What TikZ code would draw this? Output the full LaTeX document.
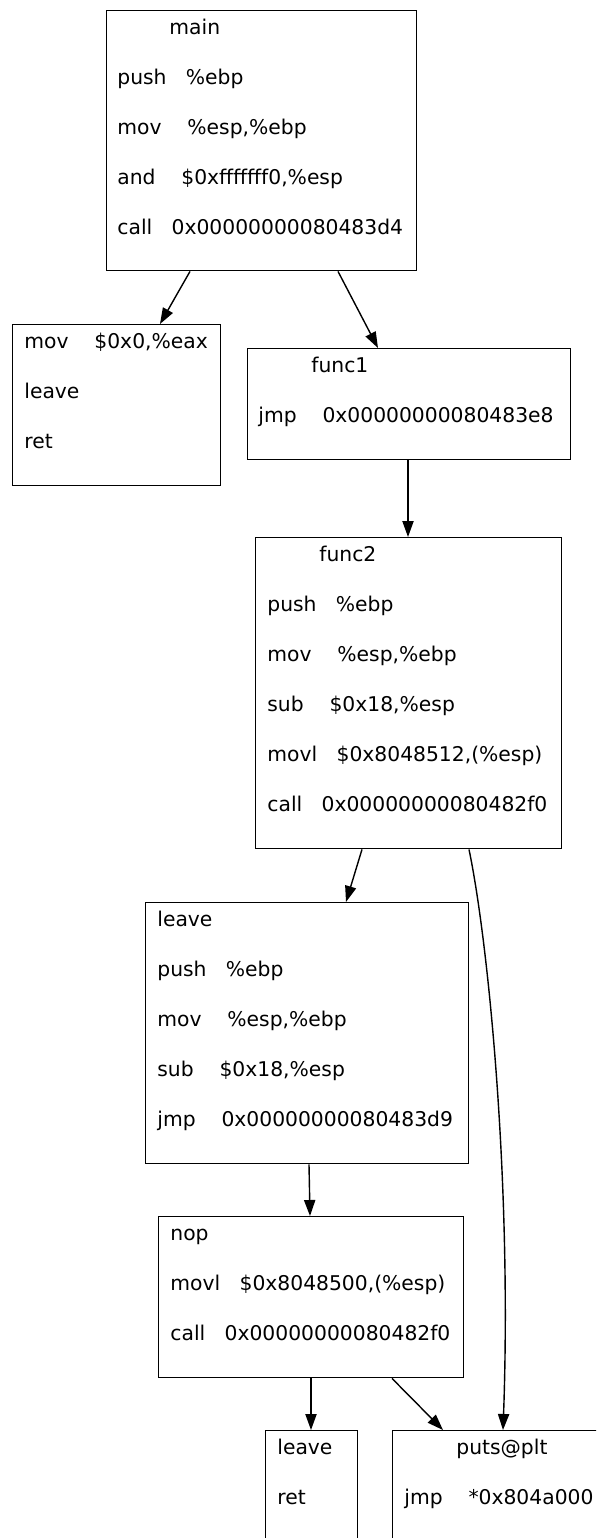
\documentclass[tikz,border=0pt]{standalone}
\usepackage{fontspec}
\setmainfont{DejaVu Sans}
\usetikzlibrary{arrows.meta,calc}

\begin{document}
\begin{tikzpicture}[x=0.5pt,y=-0.5pt,
  blk/.style={draw=black,line width=0.7pt,anchor=north west,inner sep=0pt},
  ln/.style={anchor=base west,inner sep=0pt,font=\fontsize{10.15pt}{12pt}\selectfont},
  arr/.style={line width=0.7pt,-{Triangle[length=8pt,width=5.6pt]}}]
\useasboundingbox (0,0) rectangle (596,1538);
\clip (0,0) rectangle (596,1538);

% basic blocks
\node[blk,minimum width=155pt,minimum height=130pt]   (main)  at (106,10)   {};
\node[blk,minimum width=104pt,minimum height=80.5pt]  (exit)  at (12,324)   {};
\node[blk,minimum width=161.5pt,minimum height=55.5pt](func1) at (247,348)  {};
\node[blk,minimum width=153pt,minimum height=155.5pt] (func2) at (255,537)  {};
\node[blk,minimum width=161.5pt,minimum height=130.5pt](tail) at (145,902)  {};
\node[blk,minimum width=152.5pt,minimum height=80.5pt](nopb)  at (158,1216) {};
\node[blk,minimum width=46pt,minimum height=55.5pt]   (ret)   at (265,1430) {};
\node[blk,minimum width=124pt,minimum height=55.5pt]  (puts)  at (392,1430) {};

% main
\node[ln] (m0) at (169,34)  {main};
\node[ln] (m1) at (117,84)  {push\ \ \ \%ebp};
\node[ln] (m2) at (117,134) {mov\ \ \ \ \%esp,\%ebp};
\node[ln] (m3) at (117,184) {and\ \ \ \ \$0xfffffff0,\%esp};
\node[ln] (m4) at (117,234) {call\ \ \ 0x00000000080483d4};

% return path of main
\node[ln] (e1) at (24,348) {mov\ \ \ \ \$0x0,\%eax};
\node[ln] (e2) at (24,398) {leave};
\node[ln] (e3) at (24,448) {ret};

% func1
\node[ln] (f0) at (311,372) {func1};
\node[ln] (f1) at (258,422) {jmp\ \ \ \ 0x00000000080483e8};

% func2
\node[ln] (g0) at (319,561) {func2};
\node[ln] (g1) at (267,611) {push\ \ \ \%ebp};
\node[ln] (g2) at (267,661) {mov\ \ \ \ \%esp,\%ebp};
\node[ln] (g3) at (267,711) {sub\ \ \ \ \$0x18,\%esp};
\node[ln] (g4) at (267,761) {movl\ \ \ \$0x8048512,(\%esp)};
\node[ln] (g5) at (267,811) {call\ \ \ 0x00000000080482f0};

% block after func2 call
\node[ln] (t1) at (157,926)  {leave};
\node[ln] (t2) at (157,976)  {push\ \ \ \%ebp};
\node[ln] (t3) at (157,1026) {mov\ \ \ \ \%esp,\%ebp};
\node[ln] (t4) at (157,1076) {sub\ \ \ \ \$0x18,\%esp};
\node[ln] (t5) at (157,1126) {jmp\ \ \ \ 0x00000000080483d9};

% nop block
\node[ln] (n1) at (170,1240) {nop};
\node[ln] (n2) at (170,1290) {movl\ \ \ \$0x8048500,(\%esp)};
\node[ln] (n3) at (170,1340) {call\ \ \ 0x00000000080482f0};

% final return
\node[ln] (r1) at (277,1454) {leave};
\node[ln] (r2) at (277,1504) {ret};

% puts@plt stub
\node[ln] (p0) at (456,1454) {puts@plt};
\node[ln] (p1) at (404,1504) {jmp\ \ \ \ *0x804a000};

% control flow edges
\draw[arr] ($(main.south west)+(84,0)$)   -- ($(exit.north west)+(148,0)$);
\draw[arr] ($(main.south west)+(232,0)$)  -- ($(func1.north west)+(131,0)$);
\draw[arr] ($(func1.south west)+(161,0)$) -- ($(func2.north west)+(153,0)$);
\draw[arr] ($(func2.south west)+(107,0)$) -- ($(tail.north west)+(201,0)$);
\draw[arr] ($(func2.south west)+(214,0)$) .. controls (488,940) and (512,1180) .. ($(puts.north west)+(111,0)$);
\draw[arr] ($(tail.south west)+(164,0)$)  -- ($(nopb.north west)+(152,0)$);
\draw[arr] ($(nopb.south west)+(153,0)$)  -- ($(ret.north west)+(46,0)$);
\draw[arr] ($(nopb.south west)+(234,0)$)  -- ($(puts.north west)+(51,0)$);
\end{tikzpicture}
\end{document}
